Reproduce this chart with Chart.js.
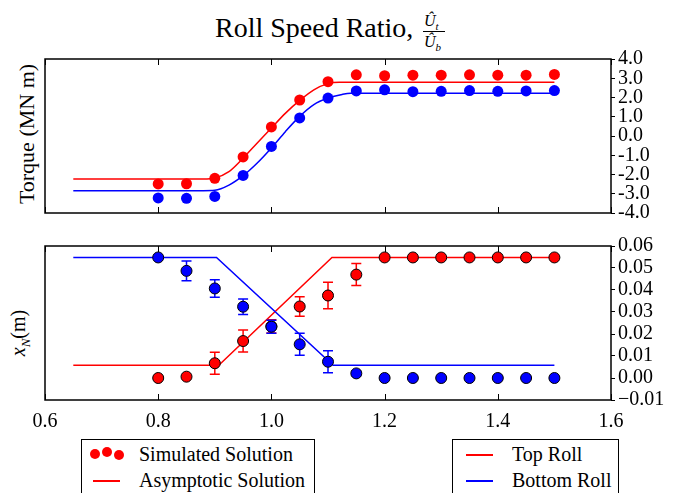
<!DOCTYPE html>
<html>
<head>
<meta charset="utf-8">
<script src="https://cdn.jsdelivr.net/npm/chart.js@4.4.0/dist/chart.umd.min.js"></script>
<style>
  body { margin: 0; background: #fff; }
  #wrap { position: relative; width: 689px; height: 493px; overflow: hidden; font-family: "Liberation Serif", serif; color: #000; }
  canvas { position: absolute; left: 0; }
  .abs { position: absolute; white-space: nowrap; }
  .rot { transform: translate(-50%, -50%) rotate(-90deg); }
  .legend { position: absolute; border: 1.5px solid #000; background: #fff; box-sizing: border-box; }
  .txt { position: absolute; font-size: 20px; line-height: 20px; white-space: nowrap; }
  .dot { position: absolute; width: 10px; height: 10px; border-radius: 50%; background: #f00; }
  .ln { position: absolute; height: 1.5px; width: 27px; }
  .u { font-size: 16px; line-height: 16px; font-style: italic; }
  .s { font-size: 11px; font-style: italic; position: relative; top: 4px; }
</style>
</head>
<body>
<div id="wrap">
  <div class="abs" style="left:215px; top:14px; font-size:28px; line-height:28px;">Roll Speed Ratio,</div>
  <div class="abs u" style="left:424px; top:13px;">Û<span class="s">t</span></div>
  <div class="abs" style="left:423px; top:31px; width:22px; height:1px; background:#000;"></div>
  <div class="abs u" style="left:424px; top:34px;">Û<span class="s">b</span></div>

  <div class="abs rot" style="left:27px; top:134px; font-size:22px;">Torque (MN m)</div>
  <div class="abs rot" style="left:20px; top:333px; font-size:20px;"><i>x</i><sub style="font-size:13px;"><i>N</i></sub>(m)</div>

  <canvas id="torqueChart" width="689" height="230" style="top:0;"></canvas>
  <canvas id="xnChart" width="689" height="200" style="top:230px;"></canvas>

  <div class="legend" style="left:81px; top:439px; width:234px; height:70px;"></div>
  <div class="dot" style="left:90px; top:449px;"></div>
  <div class="dot" style="left:102px; top:447px;"></div>
  <div class="dot" style="left:114px; top:450px;"></div>
  <div class="txt" style="left:139px; top:444px;">Simulated Solution</div>
  <div class="ln" style="left:93px; top:480px; background:#f00;"></div>
  <div class="txt" style="left:139px; top:470px;">Asymptotic Solution</div>

  <div class="legend" style="left:452px; top:439px; width:167px; height:70px;"></div>
  <div class="ln" style="left:466px; top:454px; background:#f00;"></div>
  <div class="txt" style="left:512px; top:444px;">Top Roll</div>
  <div class="ln" style="left:466px; top:480px; background:#00f;"></div>
  <div class="txt" style="left:512px; top:470px;">Bottom Roll</div>
</div>

<script>
// roll speed ratio values of the simulations
const simX = [0.8, 0.85, 0.9, 0.95, 1.0, 1.05, 1.1, 1.15, 1.2, 1.25, 1.3, 1.35, 1.4, 1.45, 1.5];

// torque, simulated (MN m)
const topTorqueSim = [-2.49, -2.48, -2.2, -1.09, 0.47, 1.87, 2.82, 3.18, 3.13, 3.16, 3.16, 3.18, 3.16, 3.16, 3.2];
const bottomTorqueSim = [-3.22, -3.24, -3.14, -2.05, -0.54, 0.94, 1.97, 2.34, 2.4, 2.3, 2.32, 2.36, 2.32, 2.34, 2.36];

// torque, asymptotic
const asymTopTorqueX = [0.65, 0.88, 0.9, 0.925, 0.95, 0.975, 1.0, 1.025, 1.05, 1.075, 1.1, 1.12, 1.5];
const topTorqueAsym = [-2.23, -2.23, -2.18, -1.85, -1.15, -0.36, 0.42, 1.19, 1.85, 2.4, 2.72, 2.79, 2.79];
const asymBottomTorqueX = [0.65, 0.88, 0.9, 0.925, 0.95, 0.975, 1.0, 1.025, 1.05, 1.075, 1.1, 1.125, 1.14, 1.5];
const bottomTorqueAsym = [-2.84, -2.84, -2.82, -2.55, -2.06, -1.4, -0.62, 0.24, 1.02, 1.63, 1.97, 2.16, 2.22, 2.22];

// neutral point x_N (m), simulated with error bars
const topXnSim = [0.0, 0.0006, 0.0067, 0.0168, 0.0235, 0.0325, 0.0375, 0.047, 0.0548, 0.0548, 0.0548, 0.0548, 0.0548, 0.0548, 0.0548];
const topXnErr = [0, 0, 0.005, 0.005, 0.003, 0.0044, 0.006, 0.005, 0, 0, 0, 0, 0, 0, 0];
const bottomXnSim = [0.0548, 0.0487, 0.0407, 0.0324, 0.0233, 0.0153, 0.0074, 0.0021, 0.0, 0.0, 0.0, 0.0, 0.0, 0.0, 0.0];
const bottomXnErr = [0, 0.0045, 0.004, 0.0035, 0.003, 0.005, 0.005, 0.001, 0, 0, 0, 0, 0, 0, 0];

// neutral point, asymptotic
const asymTopXnX = [0.65, 0.907, 1.107, 1.5];
const topXnAsym = [0.0058, 0.0058, 0.0548, 0.0548];
const asymBottomXnX = [0.65, 0.903, 1.109, 1.5];
const bottomXnAsym = [0.0548, 0.0548, 0.0058, 0.0058];

const xTicks = [0.6, 0.8, 1.0, 1.2, 1.4, 1.6];
const RED = '#ff0000';
const BLUE = '#0000ff';
const FONT = { family: 'Liberation Serif', size: 20 };

const pts = (xs, ys) => xs.map((x, i) => ({ x, y: ys[i] }));

// black box round the plot area, ticks pointing inward on top and bottom
const frame = {
  id: 'frame',
  afterDatasetsDraw(chart) {
    const { ctx, chartArea: a, scales: { x } } = chart;
    ctx.save();
    ctx.strokeStyle = '#000';
    ctx.lineWidth = 1.5;
    ctx.strokeRect(a.left, a.top, a.right - a.left, a.bottom - a.top);
    ctx.lineWidth = 1;
    xTicks.forEach(v => {
      const px = Math.round(x.getPixelForValue(v)) + 0.5;
      ctx.beginPath();
      ctx.moveTo(px, a.top);
      ctx.lineTo(px, a.top + 6);
      ctx.moveTo(px, a.bottom);
      ctx.lineTo(px, a.bottom - 6);
      ctx.stroke();
    });
    ctx.restore();
  }
};

// error bars drawn just under the markers of their dataset
const errorBars = {
  id: 'errorBars',
  beforeDatasetDraw(chart, args) {
    const ds = chart.data.datasets[args.index];
    if (!ds.errors) return;
    const { ctx, scales: { x, y } } = chart;
    ctx.save();
    ctx.strokeStyle = ds.pointBackgroundColor;
    ctx.lineWidth = 1.5;
    ds.data.forEach((p, i) => {
      const e = ds.errors[i];
      if (!e) return;
      const px = x.getPixelForValue(p.x);
      const y1 = y.getPixelForValue(p.y + e);
      const y2 = y.getPixelForValue(p.y - e);
      ctx.beginPath();
      ctx.moveTo(px, y1); ctx.lineTo(px, y2);
      ctx.moveTo(px - 5, y1); ctx.lineTo(px + 5, y1);
      ctx.moveTo(px - 5, y2); ctx.lineTo(px + 5, y2);
      ctx.stroke();
    });
    ctx.restore();
  }
};

const lineSet = (data, color, order, smooth) => ({
  data, showLine: true, borderColor: color, borderWidth: 1.5,
  pointRadius: 0, tension: 0, order,
  cubicInterpolationMode: smooth ? 'monotone' : 'default'
});

const dotSet = (data, color, order, border, errors) => ({
  data, showLine: false, pointRadius: 5.5, pointHoverRadius: 5.5,
  pointBackgroundColor: color, pointBorderColor: '#000',
  pointBorderWidth: border, order, errors
});

const rightAxis = (min, max, step, fmt) => ({
  position: 'right', min, max,
  afterFit: s => { s.width = 78; },
  afterBuildTicks: s => {
    s.ticks = [];
    for (let v = min; v <= max + step / 2; v += step) s.ticks.push({ value: +v.toFixed(4) });
  },
  ticks: { callback: fmt, font: FONT, color: '#000', padding: 3, autoSkip: false },
  grid: { drawOnChartArea: false, drawTicks: true, tickLength: 4, color: '#000', lineWidth: 1 },
  border: { display: false }
});

const commonOptions = {
  animation: false,
  responsive: false,
  plugins: { legend: { display: false }, tooltip: { enabled: false } }
};

new Chart(document.getElementById('torqueChart'), {
  type: 'scatter',
  data: {
    datasets: [
      lineSet(pts(asymTopTorqueX, topTorqueAsym), RED, 4, true),
      lineSet(pts(asymBottomTorqueX, bottomTorqueAsym), BLUE, 3, true),
      dotSet(pts(simX, topTorqueSim), RED, 2, 0),
      dotSet(pts(simX, bottomTorqueSim), BLUE, 1, 0)
    ]
  },
  options: {
    ...commonOptions,
    layout: { padding: { left: 45, top: 59, right: 0, bottom: 17 } },
    scales: {
      x: { type: 'linear', min: 0.6, max: 1.6, display: false },
      y: rightAxis(-4, 4, 1, v => v.toFixed(1))
    }
  },
  plugins: [frame, errorBars]
});

new Chart(document.getElementById('xnChart'), {
  type: 'scatter',
  data: {
    datasets: [
      lineSet(pts(asymTopXnX, topXnAsym), RED, 4, false),
      lineSet(pts(asymBottomXnX, bottomXnAsym), BLUE, 3, false),
      dotSet(pts(simX, topXnSim), RED, 2, 1, topXnErr),
      dotSet(pts(simX, bottomXnSim), BLUE, 1, 1, bottomXnErr)
    ]
  },
  options: {
    ...commonOptions,
    layout: { padding: { left: 45, top: 16, right: 0, bottom: 0 } },
    scales: {
      x: {
        type: 'linear', min: 0.6, max: 1.6,
        afterFit: s => { s.height = 30; },
        afterBuildTicks: s => { s.ticks = xTicks.map(v => ({ value: v })); },
        ticks: { callback: v => v.toFixed(1), font: FONT, color: '#000', padding: 10, autoSkip: false, maxRotation: 0 },
        grid: { display: false, drawTicks: false },
        border: { display: false }
      },
      y: rightAxis(-0.01, 0.06, 0.01, v => (v < -1e-9 ? '\u2212' + Math.abs(v).toFixed(2) : Math.abs(v).toFixed(2)))
    }
  },
  plugins: [frame, errorBars]
});
</script>
</body>
</html>
